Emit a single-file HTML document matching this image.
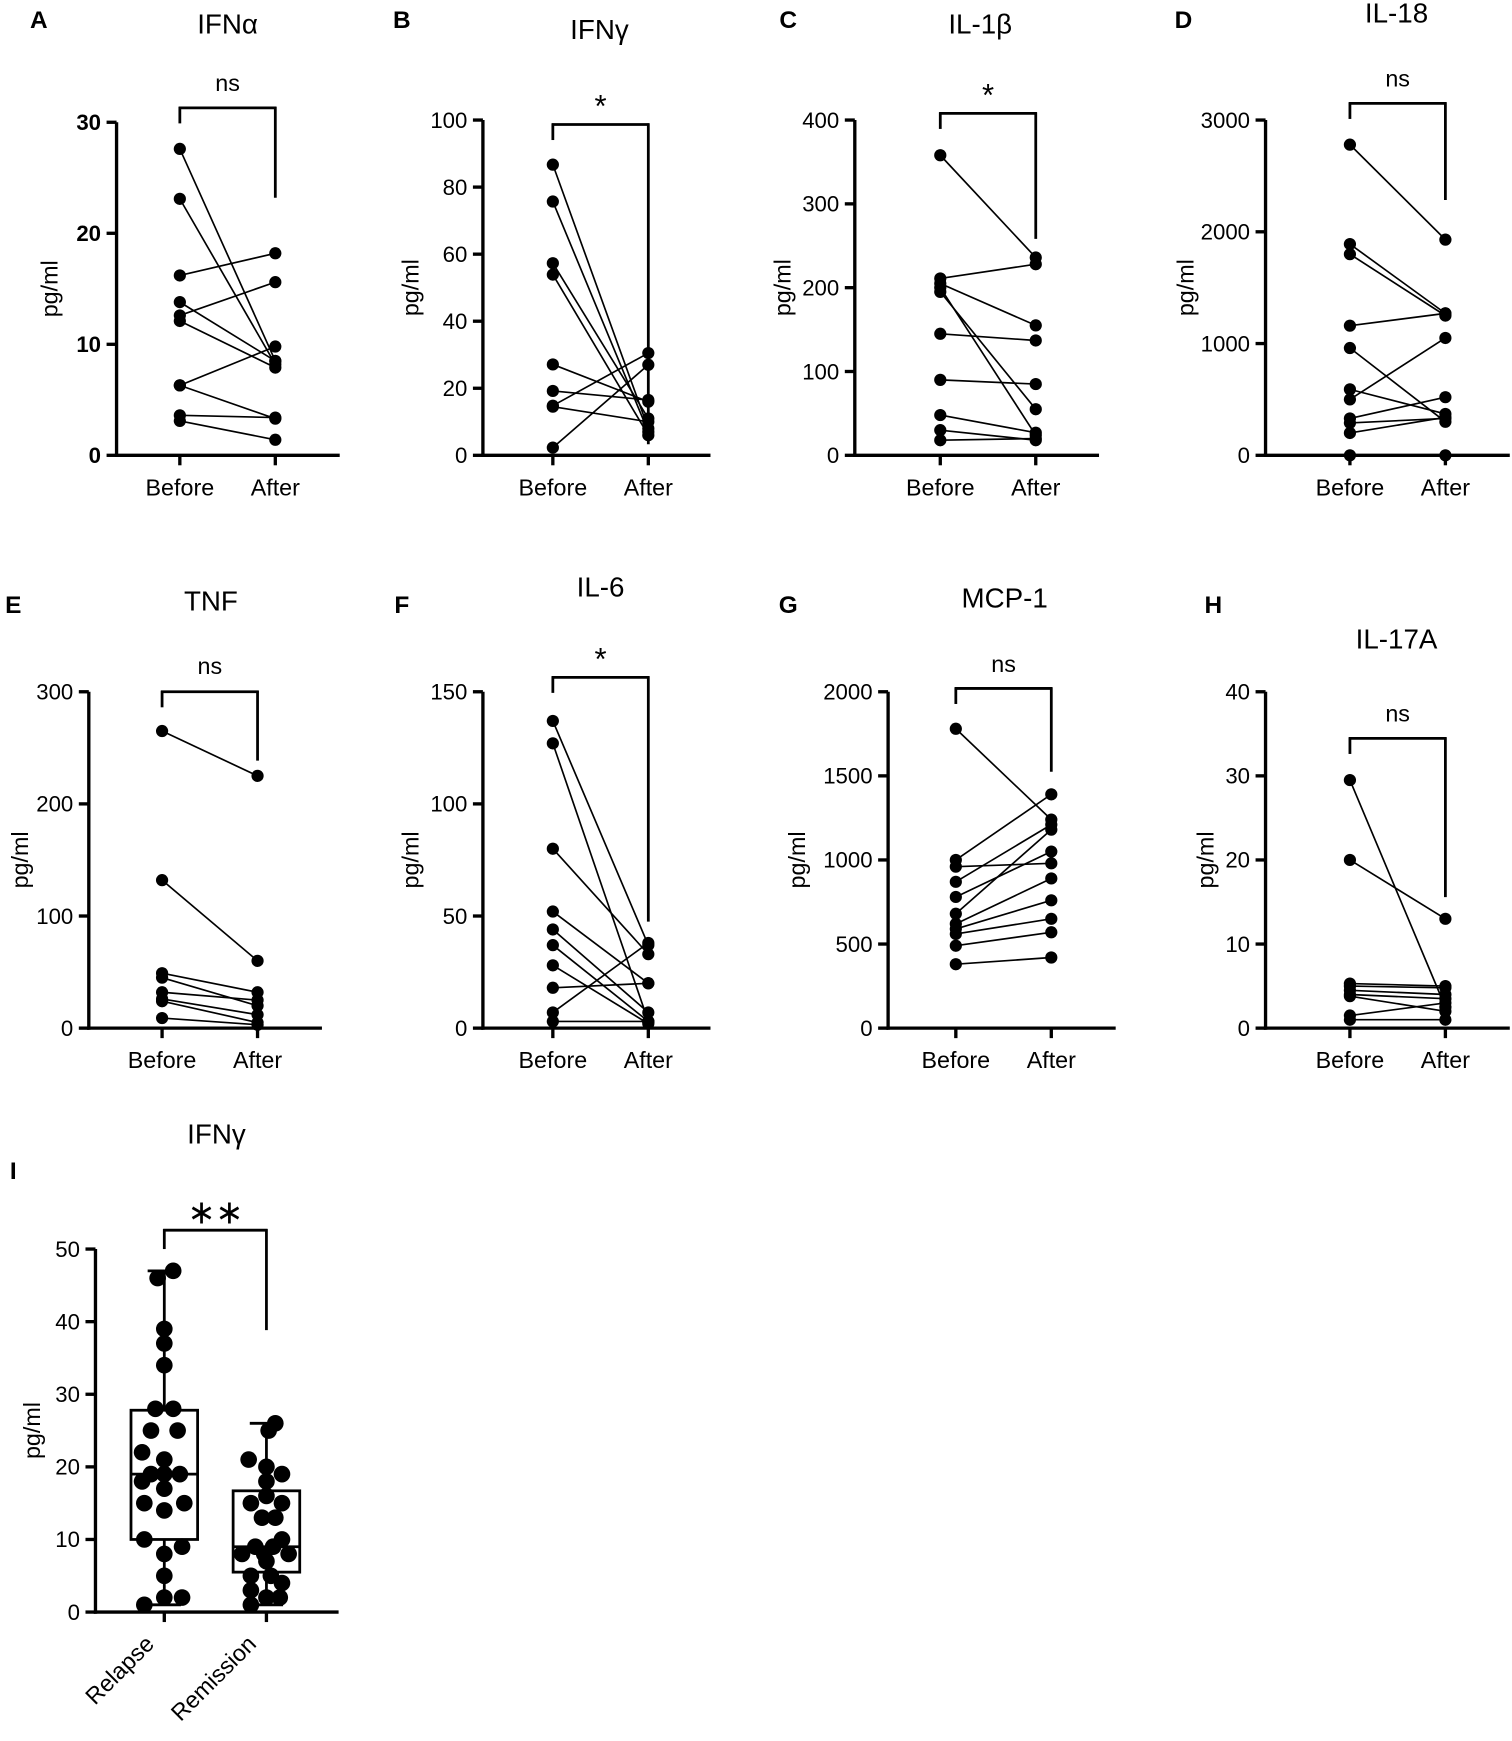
<!DOCTYPE html><html><head><meta charset="utf-8"><style>html,body{margin:0;padding:0;background:#fff}svg{display:block}text{font-family:"Liberation Sans",sans-serif;fill:#000}</style></head><body>
<svg id="s" width="1512" height="1741" viewBox="0 0 1362 1568" xmlns="http://www.w3.org/2000/svg"></svg>
<script>
const s=document.getElementById('s');let h='';
function t(x,y,str,sz,opt){opt=opt||{};h+=`<text x="${x}" y="${y}" font-size="${sz}" text-anchor="${opt.a||'middle'}" ${opt.b?'font-weight="bold"':''} ${opt.tr?'transform="'+opt.tr+'"':''}>${str}</text>`;}
function l(x1,y1,x2,y2,w){h+=`<line x1="${x1}" y1="${y1}" x2="${x2}" y2="${y2}" stroke="#000" stroke-width="${w||3}"/>`;}
function c(x,y,r){h+=`<circle cx="${x}" cy="${y}" r="${r||5.5}"/>`;}
function panel(p){
 const {ax,y0,ytop,max,step,bx,afx,data,title,tx,ty,brY,sig,sigY,letter,lx,ly,bold,xend,rdrop,lo}=p;
 const Y=v=>y0-(v/max)*(y0-ytop);
 l(ax,ytop,ax,y0+1.5);l(ax-1.5,y0,xend,y0);
 for(let v=0;v<=max+1e-9;v+=step){const y=Y(v);l(ax-9,y,ax,y);t(ax-14,y+7,v,20,{a:'end',b:bold});}
 l(bx,y0,bx,y0+9);l(afx,y0,afx,y0+9);
 t(bx,y0+36,'Before',21);t(afx,y0+36,'After',21);
 const lxp=ax-lo+7;
 t(lxp,(y0+ytop)/2,'pg/ml',21,{tr:`rotate(-90 ${lxp} ${(y0+ytop)/2})`});
 for(const [a,b] of data){l(bx,Y(a),afx,Y(b),1.5);c(bx,Y(a));c(afx,Y(b));}
 l(bx-1,brY,afx+1,brY,2.5);l(bx,brY-1,bx,brY+14,2.5);l(afx,brY-1,afx,rdrop,2.5);
 t((bx+afx)/2,sigY,sig,sig=='ns'?21:28);
 t(tx,ty,title,25);t(lx,ly,letter,22,{b:1});
}
panel({lo:60,ax:105,y0:410,ytop:110,max:30,step:10,bx:162,afx:248,bold:1,xend:306,title:'IFNα',tx:205,ty:30,brY:97,sig:'ns',sigY:82,rdrop:178,letter:'A',lx:35,ly:25,
 data:[[27.6,8.5],[23.1,8.2],[16.2,18.2],[13.8,8.5],[12.6,15.6],[12.1,7.9],[6.3,9.8],[6.3,3.3],[3.6,3.4],[3.1,1.4]]});
panel({lo:65,ax:435,y0:410,ytop:108,max:100,step:20,bx:498,afx:584,xend:640,title:'IFNγ',tx:540,ty:35,brY:112,sig:'*',sigY:105,rdrop:400,letter:'B',lx:362,ly:25,
 data:[[86.7,8],[75.7,7],[57.3,11],[53.9,6],[27.1,16],[19.2,16.5],[14.8,30.5],[14.5,10],[2.3,27]]});
panel({lo:65,ax:770,y0:410,ytop:108,max:400,step:100,bx:847,afx:933,xend:990,title:'IL-1β',tx:883,ty:30,brY:102,sig:'*',sigY:95,rdrop:215,letter:'C',lx:710,ly:25,
 data:[[358,236],[211,228],[205,155],[200,24],[195,55],[145,137],[90,85],[48,27],[30,18],[18,20]]});
panel({lo:72,ax:1140,y0:410,ytop:108,max:3000,step:1000,bx:1216,afx:1302,xend:1360,title:'IL-18',tx:1258,ty:20,brY:93,sig:'ns',sigY:78,rdrop:180,letter:'D',lx:1066,ly:25,
 data:[[2780,1930],[1890,1270],[1800,1250],[1160,1270],[960,300],[590,370],[500,1050],[330,520],[290,330],[200,340],[0,0]]});
panel({lo:62,ax:80,y0:926,ytop:623,max:300,step:100,bx:146,afx:232,xend:290,title:'TNF',tx:190,ty:550,brY:623,sig:'ns',sigY:607,rdrop:685,letter:'E',lx:12,ly:552,
 data:[[265,225],[132,60],[49,32],[45,20],[32,25],[26,12],[24,5],[9,3]]});
panel({lo:65,ax:435,y0:926,ytop:623,max:150,step:50,bx:498,afx:584,xend:640,title:'IL-6',tx:541,ty:537,brY:610,sig:'*',sigY:603,rdrop:830,letter:'F',lx:362,ly:552,
 data:[[137,37],[127,3],[80,33],[52,20],[44,7],[37,3],[28,2],[18,20],[7,38],[3,3]]});
panel({lo:82,ax:800,y0:926,ytop:623,max:2000,step:500,bx:861,afx:947,xend:1005,title:'MCP-1',tx:905,ty:547,brY:620,sig:'ns',sigY:605,rdrop:695,letter:'G',lx:710,ly:552,
 data:[[1780,1240],[1000,1390],[960,980],[870,1210],[780,1050],[680,1180],[620,890],[590,760],[560,650],[490,570],[380,420]]});
panel({lo:54,ax:1140,y0:926,ytop:623,max:40,step:10,bx:1216,afx:1302,xend:1360,title:'IL-17A',tx:1258,ty:584,brY:665,sig:'ns',sigY:650,rdrop:808,letter:'H',lx:1093,ly:552,
 data:[[29.5,2.5],[20,13],[5.3,5],[5,4.8],[4.5,4],[4,3.5],[3.8,2],[1.5,3],[1,1]]});
(function(){
 const ax=86,y0=1452,ytop=1125,max=50;const Y=v=>y0-(v/max)*(y0-ytop);
 l(ax,ytop,ax,y0+1.5);l(ax-1.5,y0,305,y0);
 for(let v=0;v<=50;v+=10){const y=Y(v);l(ax-9,y,ax,y);t(ax-14,y+7,v,20,{a:'end'});}
 const r=148,m=240;l(r,y0,r,y0+9);l(m,y0,m,y0+9);
 t(36,(y0+ytop)/2,'pg/ml',21,{tr:`rotate(-90 36 ${(y0+ytop)/2})`});
 t(r-8,y0+30,'Relapse',21,{a:'end',tr:`rotate(-45 ${r-8} ${y0+30})`});
 t(m-8,y0+30,'Remission',21,{a:'end',tr:`rotate(-45 ${m-8} ${y0+30})`});
 function box(x,q1,med,q3,lo,hi){h+=`<rect x="${x-30}" y="${Y(q3)}" width="60" height="${Y(q1)-Y(q3)}" fill="none" stroke="#000" stroke-width="2.5"/>`;l(x-30,Y(med),x+30,Y(med),2.5);l(x,Y(q3),x,Y(hi),2.5);l(x,Y(q1),x,Y(lo),2.5);l(x-15,Y(hi),x+15,Y(hi),2.5);l(x-15,Y(lo),x+15,Y(lo),2.5);}
 box(r,10,19,27.8,1,47);box(m,5.5,9,16.7,1,26);
 const P1=[[47,8],[46,-6],[39,0],[37,0],[34,0],[28,-8],[28,8],[25,-12],[25,12],[22,-20],[21,0],[19,-12],[19,0],[19,14],[18,-20],[17,0],[15,-18],[15,18],[14,0],[10,-18],[9,16],[8,0],[5,0],[2,0],[2,16],[1,-18]];
 const P2=[[26,8],[25,2],[21,-16],[20,0],[19,14],[18,0],[16,0],[15,-14],[15,14],[13,-4],[13,8],[10,14],[9,-10],[9,6],[8,-22],[8,20],[8,-2],[7,0],[5,-14],[5,4],[4,14],[3,-14],[2,0],[2,12],[1,-14]];
 for(const [v,dx] of P1)c(r+dx,Y(v),7.5);for(const [v,dx] of P2)c(m+dx,Y(v),7.5);
 l(r-1,1108,m+1,1108,2.5);l(r,1107,r,1125,2.5);l(m,1107,m,1198,2.5);
 t(194,1102,'∗∗',30);t(195,1030,'IFNγ',25);t(12,1062,'I',22,{b:1});
})();
s.innerHTML=h;
</script></body></html>
